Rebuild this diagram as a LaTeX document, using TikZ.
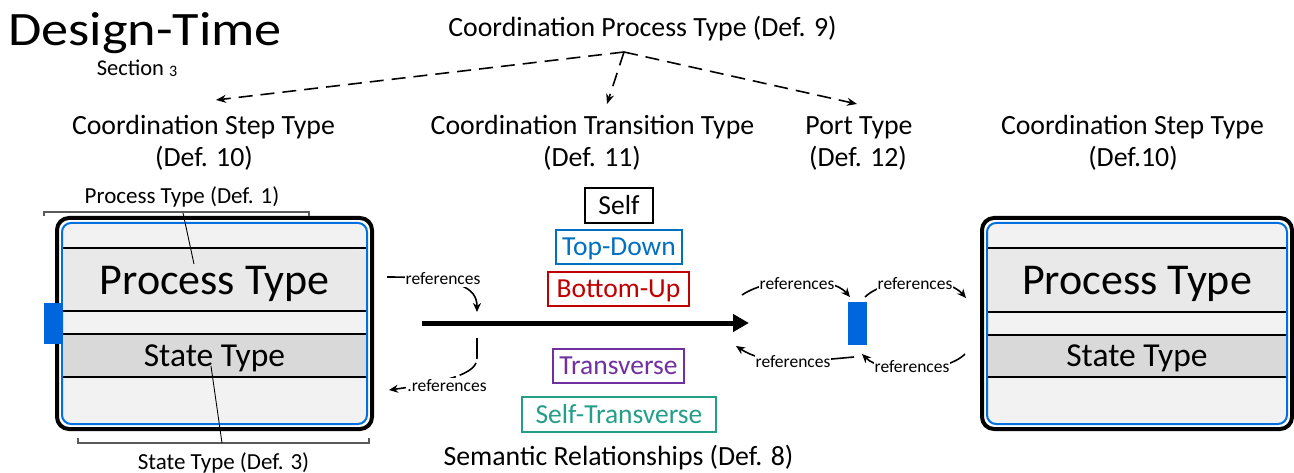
\documentclass[tikz,border=0pt]{standalone}
\usepackage{fontspec}
\setmainfont{Carlito}
\usetikzlibrary{arrows.meta}
\definecolor{portblue}{RGB}{0,102,221}
\definecolor{innerblue}{RGB}{0,112,224}
\definecolor{boxfill}{RGB}{242,242,242}
\definecolor{procfill}{RGB}{233,233,233}
\definecolor{statefill}{RGB}{217,217,217}
\definecolor{tdblue}{RGB}{0,112,192}
\definecolor{bured}{RGB}{192,0,0}
\definecolor{trpurple}{RGB}{112,48,160}
\definecolor{stteal}{RGB}{36,158,136}
\definecolor{bracketgray}{RGB}{90,90,90}
\begin{document}
\begin{tikzpicture}[x=1pt,y=-1pt,
  t/.style={inner sep=0pt, font=\fontsize{#1}{#1}\selectfont, text height={0.64*#1pt}, text depth=0pt},
  relbox/.style={draw=#1, text=#1, line width=1.2pt, inner sep=0pt, font=\fontsize{27.5}{27.5}\selectfont, text height={0.64*27.5pt}, text depth=0pt},
  hier/.style={line width=1.6pt, dash pattern=on 14pt off 8pt, -{Stealth[length=10pt,width=8pt]}},
  refarr/.style={line width=1.6pt, -{Stealth[length=9pt,width=8pt]}},
  reflabel/.style={t=17.5, fill=white, inner xsep=1pt, inner ysep=2pt},
  outerbox/.style={line width=4pt, rounded corners=12pt},
  innerbox/.style={draw=innerblue, line width=2pt, fill=boxfill, rounded corners=9pt},
  band/.style={line width=1.3pt},
  port/.style={fill=portblue, draw=none},
  bracket/.style={draw=bracketgray, line width=1.2pt},
  leader/.style={line width=0.9pt}
]
\useasboundingbox (0,0) rectangle (1294,473);

% title
\node[t=48, anchor=west] (title) at (8,30) {\scalebox{1.13}[1]{Design-Time}};
\node[t=22.5] (sect) at (137,68) {Section {\fontsize{16}{16}\selectfont\raisebox{-1.5pt}{3}}};

% hierarchy
\node[t=27.8] (cpt) at (642.5,28) {Coordination Process Type (Def. 9)};
\node[t=27.8] (cst1) at (203.5,126) {Coordination Step Type};
\node[t=27.8] (cst1d) at (204,158) {(Def. 10)};
\node[t=27.8] (ctt) at (592.5,126) {Coordination Transition Type};
\node[t=27.8] (cttd) at (592,158) {(Def. 11)};
\node[t=27.8] (pt) at (859,126) {Port Type};
\node[t=27.8] (ptd) at (858,158) {(Def. 12)};
\node[t=27.8] (cst2) at (1132.5,126) {Coordination Step Type};
\node[t=27.8] (cst2d) at (1133,158) {(Def.10)};

\coordinate (apex) at (624,52);
\coordinate (tipA) at (216,100);
\coordinate (tipB) at (607,104);
\coordinate (tipC) at (857,104);
\draw[hier] (apex) -- (tipA);
\draw[hier] (apex) -- (tipB);
\draw[hier] (apex) -- (tipC);

% left step box
\draw[outerbox] (57,218) rectangle (372,429);
\draw[innerbox] (62,223) rectangle (367,424);
\fill[procfill] (63,248) rectangle (366,311);
\fill[statefill] (63,334) rectangle (366,377);
\draw[band] (63,248) -- (366,248);
\draw[band] (63,311) -- (366,311);
\draw[band] (63,334) -- (366,334);
\draw[band] (63,377) -- (366,377);
\node[t=44] (lproc) at (214.5,280) {Process Type};
\node[t=33.5] (lstate) at (214.5,356) {State Type};
\fill[port] (44,303) rectangle (63,344);

% right step box
\draw[outerbox] (982,218) rectangle (1292,429);
\draw[innerbox] (987,223) rectangle (1287,424);
\fill[procfill] (988,248) rectangle (1286,312);
\fill[statefill] (988,335) rectangle (1286,377);
\draw[band] (988,248) -- (1286,248);
\draw[band] (988,312) -- (1286,312);
\draw[band] (988,335) -- (1286,335);
\draw[band] (988,377) -- (1286,377);
\node[t=44] (rproc) at (1137,280) {Process Type};
\node[t=33.5] (rstate) at (1137,356) {State Type};

% annotation brackets
\node[t=23] (ptdef) at (182,196) {Process Type (Def. 1)};
\draw[bracket] (44,216) -- (44,212) -- (309,212) -- (309,216);
\coordinate (ptl1) at (183,213);
\coordinate (ptl2) at (194,264);
\draw[leader] (ptl1) -- (ptl2);
\node[t=23] (stdef) at (223.5,462) {State Type (Def. 3)};
\draw[bracket] (78,438) -- (78,443) -- (369,443) -- (369,438);
\coordinate (stl1) at (211,366);
\coordinate (stl2) at (222,443);
\draw[leader] (stl1) -- (stl2);

% semantic relationships
\node[relbox=black, minimum width=68pt, minimum height=35pt] (self) at (619,205.5) {Self};
\node[relbox=tdblue, minimum width=126pt, minimum height=34pt] (td) at (619,247) {Top-Down};
\node[relbox=bured, minimum width=141pt, minimum height=34pt] (bu) at (618.5,289) {Bottom-Up};
\node[relbox=trpurple, minimum width=131pt, minimum height=34pt] (tr) at (618.5,366) {Transverse};
\node[relbox=stteal, minimum width=194pt, minimum height=35pt] (st) at (619,414.5) {Self-Transverse};
\node[t=27.8] (sem) at (618.5,457) {Semantic Relationships (Def. 8)};

% transition arrow
\coordinate (trs) at (422,323);
\coordinate (tre) at (749,323);
\draw[line width=5pt, -{Triangle[length=16pt,width=17pt]}] (trs) -- (tre);

% right port
\fill[port] (848,302) rectangle (867,345);

% references arrows
\coordinate (r1a) at (387,277);
\coordinate (r1b) at (477,312);
\draw[refarr] (r1a) .. controls (460,277) and (477,288) .. (r1b);
\node[reflabel] (r1l) at (443,279) {references};

\coordinate (r2a) at (477,338);
\coordinate (r2m) at (477,358);
\coordinate (r2b) at (389,390);
\draw[refarr, dash pattern=on 21pt off 4pt] (r2a) -- (r2m) .. controls (477,370) and (462,380) .. (r2b);
\node[reflabel] (r2l) at (447,386) {.references};

\coordinate (r3a) at (742,295);
\coordinate (r3b) at (850,297);
\draw[refarr] (r3a) .. controls (770,276) and (832,276) .. (r3b);
\node[reflabel] (r3l) at (797,284) {references};

\coordinate (r4a) at (865,297);
\coordinate (r4b) at (966,298);
\draw[refarr] (r4a) .. controls (887,276) and (947,276) .. (r4b);
\node[reflabel] (r4l) at (915,284) {references};

\coordinate (r5a) at (965,354);
\coordinate (r5b) at (862,354);
\draw[refarr] (r5a) .. controls (945,374) and (882,374) .. (r5b);
\node[reflabel] (r5l) at (912,367) {references};

\coordinate (r6a) at (854,357);
\coordinate (r6b) at (736,346);
\draw[refarr] (r6a) .. controls (800,362) and (765,365) .. (r6b);
\node[reflabel] (r6l) at (793,362) {references};
\end{tikzpicture}
\end{document}
